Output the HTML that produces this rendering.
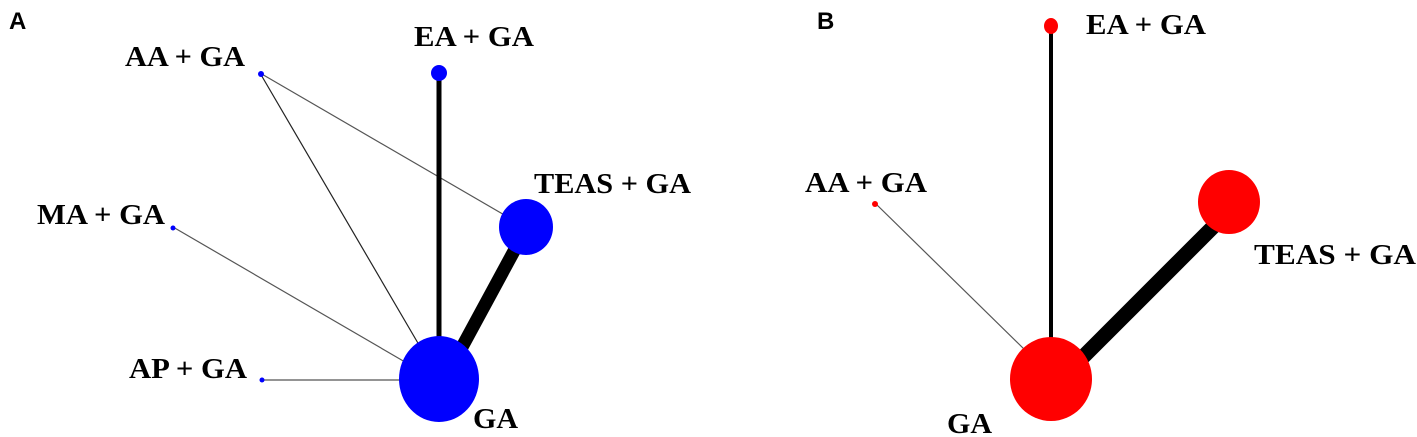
<!DOCTYPE html>
<html><head><meta charset="utf-8"><style>
html,body{margin:0;padding:0;background:#fff;}
svg{display:block}
.t{font-family:"Liberation Serif",serif;font-weight:bold;font-size:29px;fill:#000}
.p{font-family:"Liberation Sans",sans-serif;font-weight:bold;font-size:24px;fill:#000}
</style></head><body>
<svg width="1417" height="437" viewBox="0 0 1417 437" xmlns="http://www.w3.org/2000/svg">
<rect width="1417" height="437" fill="#fff"/>
<!-- Panel A -->
<text class="p" x="9" y="29">A</text>
<line x1="260" y1="73" x2="525" y2="227" stroke="#555" stroke-width="1.2"/>
<line x1="260" y1="73" x2="422" y2="350" stroke="#222" stroke-width="1.2"/>
<line x1="173" y1="227" x2="405" y2="362" stroke="#555" stroke-width="1.2"/>
<line x1="260" y1="380" x2="400" y2="380" stroke="#555" stroke-width="1.2"/>
<line x1="439" y1="73" x2="439" y2="350" stroke="#000" stroke-width="5"/>
<line x1="520" y1="240" x2="455" y2="360" stroke="#000" stroke-width="13"/>
<ellipse cx="439" cy="379" rx="40" ry="43" fill="#0000ff"/>
<ellipse cx="526" cy="227" rx="27" ry="28" fill="#0000ff"/>
<ellipse cx="439" cy="73" rx="8" ry="8" fill="#0000ff"/>
<circle cx="261" cy="74" r="3" fill="#0000ff"/>
<circle cx="173" cy="228" r="2.5" fill="#0000ff"/>
<circle cx="262" cy="380" r="2.5" fill="#0000ff"/>
<text class="t" x="125" y="66" textLength="120" lengthAdjust="spacingAndGlyphs">AA + GA</text>
<text class="t" x="414" y="46" textLength="120" lengthAdjust="spacingAndGlyphs">EA + GA</text>
<text class="t" x="534" y="193" textLength="157" lengthAdjust="spacingAndGlyphs">TEAS + GA</text>
<text class="t" x="37" y="224" textLength="128" lengthAdjust="spacingAndGlyphs">MA + GA</text>
<text class="t" x="129" y="378" textLength="118" lengthAdjust="spacingAndGlyphs">AP + GA</text>
<text class="t" x="473" y="428" textLength="45" lengthAdjust="spacingAndGlyphs">GA</text>
<!-- Panel B -->
<text class="p" x="817" y="29">B</text>
<line x1="875" y1="203" x2="1025" y2="350" stroke="#555" stroke-width="1.2"/>
<line x1="1051" y1="26" x2="1051" y2="350" stroke="#000" stroke-width="4"/>
<line x1="1215" y1="225" x2="1080" y2="360" stroke="#000" stroke-width="15"/>
<ellipse cx="1051" cy="379" rx="41" ry="42" fill="#ff0000"/>
<ellipse cx="1229" cy="202" rx="31" ry="32" fill="#ff0000"/>
<ellipse cx="1051" cy="26" rx="7" ry="8" fill="#ff0000"/>
<circle cx="875" cy="204" r="3" fill="#ff0000"/>
<text class="t" x="1086" y="34" textLength="120" lengthAdjust="spacingAndGlyphs">EA + GA</text>
<text class="t" x="805" y="192" textLength="122" lengthAdjust="spacingAndGlyphs">AA + GA</text>
<text class="t" x="1254" y="264" textLength="162" lengthAdjust="spacingAndGlyphs">TEAS + GA</text>
<text class="t" x="947" y="433" textLength="45" lengthAdjust="spacingAndGlyphs">GA</text>
</svg>
</body></html>
